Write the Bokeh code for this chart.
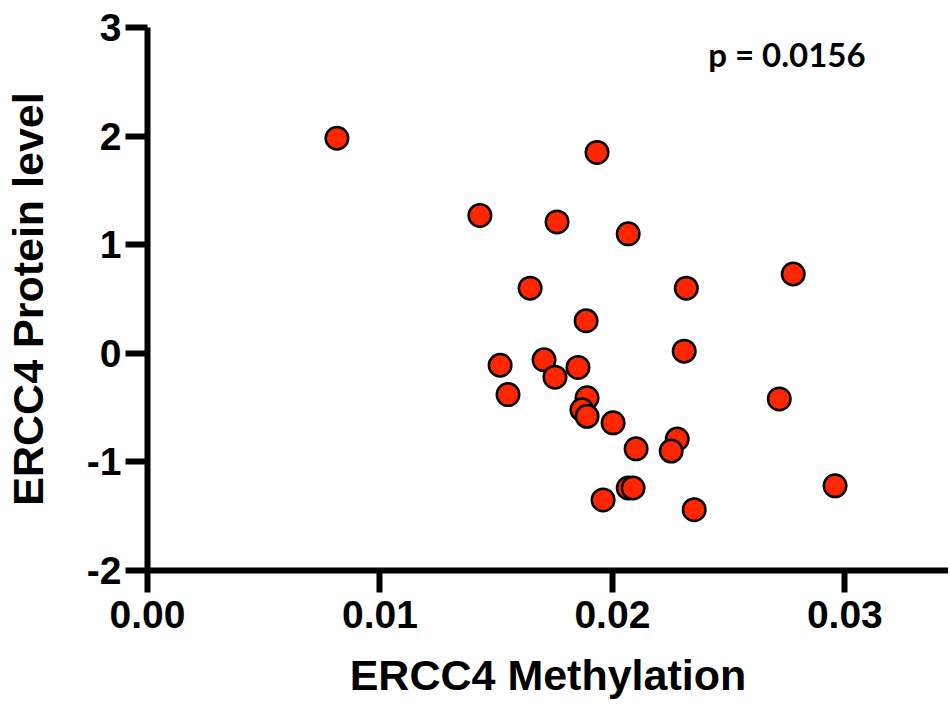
from bokeh.plotting import figure
from bokeh.models import Range1d, FixedTicker, Label
from bokeh.embed import file_html
from bokeh.resources import INLINE

# data
methylation = [0.00815, 0.01430, 0.01934, 0.01762, 0.02068, 0.02778, 0.01646,
               0.02318, 0.01887, 0.02309, 0.01517, 0.01706, 0.01753, 0.01852,
               0.01551, 0.01891, 0.01869, 0.01891, 0.02003, 0.02718, 0.02102,
               0.02279, 0.02253, 0.02068, 0.02089, 0.01960, 0.02352, 0.02958]
protein = [1.98, 1.27, 1.85, 1.21, 1.10, 0.73, 0.60,
           0.60, 0.30, 0.02, -0.11, -0.06, -0.22, -0.13,
           -0.38, -0.41, -0.52, -0.58, -0.64, -0.42, -0.88,
           -0.79, -0.90, -1.24, -1.24, -1.35, -1.44, -1.22]
x_ticks = [0.0, 0.01, 0.02, 0.03]
x_tick_labels = ["0.00", "0.01", "0.02", "0.03"]
y_ticks = [-2, -1, 0, 1, 2, 3]
y_tick_labels = ["-2", "-1", "0", "1", "2", "3"]
p_text = "p = 0.0156"

p = figure(width=948, height=712, output_backend="svg", toolbar_location=None,
           x_range=Range1d(0, 0.03446), y_range=Range1d(-2, 3),
           min_border_left=147, min_border_right=0, min_border_top=27,
           min_border_bottom=142)
p.outline_line_color = None
p.grid.visible = False
p.background_fill_color = "white"
p.border_fill_color = "white"

for ax in (p.xaxis[0], p.yaxis[0]):
    ax.axis_line_width = 6
    ax.axis_line_color = "black"
    ax.major_tick_line_width = 6
    ax.major_tick_line_color = "black"
    ax.major_tick_out = 22
    ax.major_tick_in = 0
    ax.minor_tick_line_color = None
    ax.major_label_text_font = "Liberation Sans"
    ax.major_label_text_font_style = "bold"
    ax.major_label_text_font_size = "39px"
    ax.major_label_text_color = "black"
    ax.axis_label_text_font = "Liberation Sans"
    ax.axis_label_text_font_style = "bold"
    ax.axis_label_text_font_size = "43px"
    ax.axis_label_text_color = "black"

p.xaxis[0].ticker = FixedTicker(ticks=x_ticks)
p.xaxis[0].major_label_overrides = {t: l for t, l in zip(x_ticks, x_tick_labels)}
p.yaxis[0].ticker = FixedTicker(ticks=y_ticks)
p.yaxis[0].major_label_overrides = {t: l for t, l in zip(y_ticks, y_tick_labels)}
p.xaxis[0].axis_label = "ERCC4 Methylation"
p.yaxis[0].axis_label = "ERCC4 Protein level"
p.xaxis[0].major_label_standoff = 8
p.yaxis[0].major_label_standoff = 4
p.xaxis[0].axis_label_standoff = 20
p.yaxis[0].axis_label_standoff = 32

p.scatter(methylation, protein, size=22.5, fill_color="#ff2600",
          line_color="black", line_width=2.5)

p.add_layout(Label(x=0.02412, y=2.76, text=p_text, text_font="Lato",
                   text_font_style="bold", text_font_size="33px",
                   text_color="black", text_baseline="alphabetic"))

open("out.html", "w").write(file_html(p, INLINE))
